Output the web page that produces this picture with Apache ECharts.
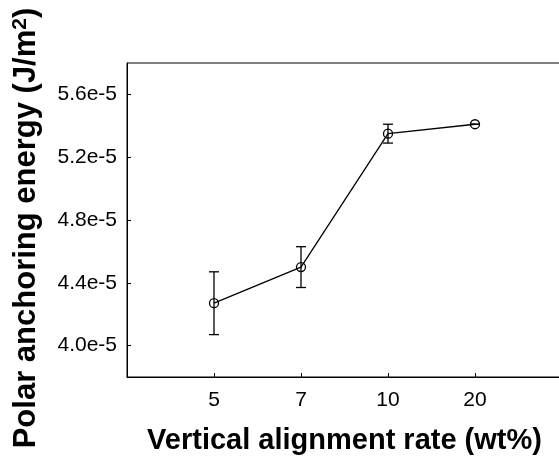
<!DOCTYPE html>
<html>
<head>
<meta charset="utf-8">
<script src="https://cdn.jsdelivr.net/npm/echarts@6/dist/echarts.min.js"></script>
<style>
  html, body { margin: 0; padding: 0; background: #fff; }
  #myChart { width: 559px; height: 459px; }
</style>
</head>
<body>
<div id="myChart"></div>
<script>
// vertical alignment rate (wt%)
var categories = ['5', '7', '10', '20'];
// polar anchoring energy (J/m2)
var energy = [4.27e-5, 4.50e-5, 5.35e-5, 5.41e-5];
var errorBar = [0.20e-5, 0.13e-5, 0.06e-5, 0];
var yTicks = [4.0e-5, 4.4e-5, 4.8e-5, 5.2e-5, 5.6e-5];

var xPos = categories.map(function (c, i) { return i + 1; });
var lineData = categories.map(function (c, i) { return [xPos[i], energy[i]]; });
var errData = categories.map(function (c, i) {
  return [xPos[i], energy[i] - errorBar[i], energy[i] + errorBar[i]];
});

var font = 'Liberation Sans, Arial, sans-serif';

var myChart = echarts.init(document.getElementById('myChart'));
var option = {
  backgroundColor: '#fff',
  animation: false,
  grid: {
    left: 127, top: 63, right: -3, bottom: 82,
    show: true, borderColor: '#000', borderWidth: 1,
    outerBoundsMode: 'none'
  },
  xAxis: {
    type: 'value', min: 0, max: 5,
    name: 'Vertical alignment rate (wt%)',
    nameLocation: 'middle', nameGap: 49,
    nameTextStyle: { fontFamily: font, fontWeight: 'bold', fontSize: 29, color: '#000' },
    axisLine: { lineStyle: { color: '#000', width: 1 } },
    axisTick: { inside: true, length: 4, customValues: xPos, lineStyle: { color: '#000' } },
    axisLabel: {
      customValues: xPos, margin: 13,
      fontFamily: font, fontSize: 21, color: '#000',
      formatter: function (v) { return categories[Math.round(v) - 1]; }
    },
    splitLine: { show: false }
  },
  yAxis: {
    type: 'value', min: 3.8e-5, max: 5.8e-5,
    name: '{t|Polar anchoring energy (J/m}{s|2}{t|)}',
    nameLocation: 'middle', nameGap: 84,
    nameTextStyle: {
      color: '#000',
      padding: [0, 16, 0, 0],
      rich: {
        t: { fontFamily: font, fontWeight: 'bold', fontSize: 31, color: '#000', lineHeight: 33 },
        s: { fontFamily: font, fontWeight: 'bold', fontSize: 21, color: '#000', verticalAlign: 'top', lineHeight: 33, padding: [0, 0, 10, 0] }
      }
    },
    axisLine: { lineStyle: { color: '#000', width: 1 } },
    axisTick: { inside: true, length: 4, customValues: yTicks, lineStyle: { color: '#000' } },
    axisLabel: {
      customValues: yTicks, margin: 10,
      fontFamily: font, fontSize: 21, color: '#000',
      formatter: function (v) { return v.toExponential(1); }
    },
    splitLine: { show: false }
  },
  series: [
    {
      type: 'custom',
      data: errData,
      z: 3,
      renderItem: function (params, api) {
        var x = api.value(0);
        var lo = api.coord([x, api.value(1)]);
        var hi = api.coord([x, api.value(2)]);
        var half = 5;
        var style = { stroke: '#000', lineWidth: 1.3, fill: null };
        return {
          type: 'group',
          children: [
            { type: 'line', shape: { x1: lo[0], y1: lo[1], x2: hi[0], y2: hi[1] }, style: style },
            { type: 'line', shape: { x1: lo[0] - half, y1: lo[1], x2: lo[0] + half, y2: lo[1] }, style: style },
            { type: 'line', shape: { x1: hi[0] - half, y1: hi[1], x2: hi[0] + half, y2: hi[1] }, style: style }
          ]
        };
      }
    },
    {
      type: 'line',
      data: lineData,
      z: 4,
      symbol: 'circle',
      symbolSize: 9,
      lineStyle: { color: '#000', width: 1.3 },
      itemStyle: { color: 'rgba(255,255,255,0)', borderColor: '#000', borderWidth: 1.3 }
    }
  ]
};
myChart.setOption(option);
</script>
</body>
</html>
